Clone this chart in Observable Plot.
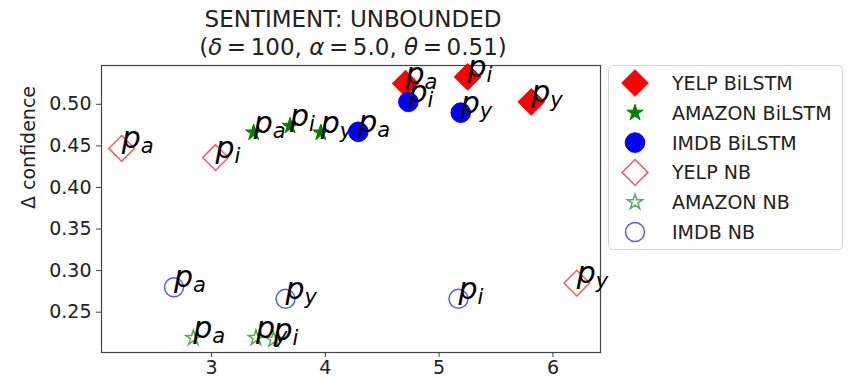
<!DOCTYPE html>
<html><head><meta charset="utf-8">
<script src="https://cdn.jsdelivr.net/npm/d3@7"></script>
<script src="https://cdn.jsdelivr.net/npm/@observablehq/plot@0.6"></script>
<style>
body{margin:0;background:#fff;}
#wrap{position:relative;width:849px;height:378px;font-family:"DejaVu Sans";}
#wrap svg{position:absolute;left:0;top:0;}
</style></head><body><div id="wrap"></div>
<script>
// ---- data ----
const subLabels = ["a", "i", "y"];
const yelpLstmX = [4.705, 5.25, 5.81];
const yelpLstmY = [0.525, 0.533, 0.503];
const amazonLstmX = [3.37, 3.69, 3.96];
const amazonLstmY = [0.466, 0.474, 0.466];
const imdbLstmX = [4.29, 4.73, 5.19];
const imdbLstmY = [0.467, 0.503, 0.490];
const yelpNbX = [2.21, 3.035, 6.21];
const yelpNbY = [0.447, 0.436, 0.285];
const amazonNbX = [2.84, 3.545, 3.39];
const amazonNbY = [0.219, 0.217, 0.219];
const imdbNbX = [2.67, 5.17, 3.65];
const imdbNbY = [0.280, 0.266, 0.266];
const seriesNames = ["YELP BiLSTM", "AMAZON BiLSTM", "IMDB BiLSTM", "YELP NB", "AMAZON NB", "IMDB NB"];
const xTicks = [3, 4, 5, 6];
const yTicks = [0.25, 0.30, 0.35, 0.40, 0.45, 0.50];
const titleLine1 = "SENTIMENT: UNBOUNDED";
const yLabel = "Δ confidence";

// ---- styles ----
const seriesData = [
  [yelpLstmX, yelpLstmY], [amazonLstmX, amazonLstmY], [imdbLstmX, imdbLstmY],
  [yelpNbX, yelpNbY], [amazonNbX, amazonNbY], [imdbNbX, imdbNbY]
];
const styles = [
  {symbol: "diamond2", r: 12, color: "#ff0000", filled: true},
  {symbol: "star", r: 5.1, color: "#008000", filled: true},
  {symbol: "circle", r: 9.8, color: "#0000ff", filled: true},
  {symbol: "diamond2", r: 11.6, color: "#ff0000", filled: false},
  {symbol: "star", r: 4.8, color: "#008000", filled: false},
  {symbol: "circle", r: 9.5, color: "#0000ff", filled: false}
];
const symMap = {diamond2: d3.symbolDiamond2, star: d3.symbolStar, circle: d3.symbolCircle};
const FONT = "DejaVu Sans";

const marks = [];
seriesData.forEach(([xs, ys], k) => {
  const s = styles[k];
  const rows = xs.map((x, i) => ({x, y: ys[i], sub: subLabels[i]}));
  marks.push(Plot.dot(rows, {
    x: "x", y: "y", symbol: s.symbol, r: s.r,
    fill: s.filled ? s.color : "none", stroke: s.color,
    strokeOpacity: s.filled ? 1 : 0.65, strokeWidth: s.filled ? 1 : 1.5
  }));
  marks.push(Plot.text(rows, {
    x: "x", y: "y", text: () => "p", textAnchor: "start", lineAnchor: "bottom",
    fontSize: 30, fontStyle: "italic", fontFamily: FONT, fill: "#000", dx: 0
  }));
  marks.push(Plot.text(rows, {
    x: "x", y: "y", text: "sub", textAnchor: "start", lineAnchor: "bottom",
    fontSize: 21, fontStyle: "italic", fontFamily: FONT, fill: "#000", dx: 19, dy: 5
  }));
});

const chart = Plot.plot({
  width: 849, height: 378,
  marginLeft: 101, marginRight: 249, marginTop: 65, marginBottom: 26,
  x: {domain: [2.033, 6.418]},
  y: {domain: [0.2015, 0.5467]},
  style: {fontFamily: FONT, fontSize: "19px", color: "#222", background: "transparent"},
  marks: [
    Plot.frame({stroke: "#444", strokeWidth: 1.2}),
    ...marks,
    Plot.axisX({ticks: xTicks, tickFormat: "d", tickSize: 5, tickPadding: 3, fontSize: 19, label: null, stroke: "#444"}),
    Plot.axisY({ticks: yTicks, tickFormat: ".2f", tickSize: 5, tickPadding: 5, fontSize: 19, label: null, stroke: "#444"}),
    Plot.text([yLabel], {text: d => d, frameAnchor: "left", dx: -73, rotate: -90, fontSize: 19, fill: "#222"})
  ]
});
document.getElementById("wrap").appendChild(chart);

// ---- overlay: title + legend ----
const ov = d3.select("#wrap").append("svg").attr("width", 849).attr("height", 378)
  .style("font-family", FONT);
ov.append("text").attr("x", 353).attr("y", 27).attr("text-anchor", "middle")
  .attr("font-size", 23).attr("fill", "#222").text(titleLine1);
const t2 = ov.append("text").attr("x", 353).attr("y", 55).attr("text-anchor", "middle")
  .attr("font-size", 23).attr("fill", "#222");
const parts = [["(", 0], ["δ", 1], ["\u2009=\u2009100, ", 0], ["α", 1], ["\u2009=\u20095.0, ", 0], ["θ", 1], ["\u2009=\u20090.51)", 0]];
parts.forEach(([s, it]) => t2.append("tspan").attr("font-style", it ? "italic" : "normal").text(s));

const lg = ov.append("g");
lg.append("rect").attr("x", 608.5).attr("y", 65.5).attr("width", 234).attr("height", 184)
  .attr("rx", 4).attr("fill", "#fff").attr("stroke", "#d6d6d6");
seriesNames.forEach((name, k) => {
  const s = styles[k];
  const cy = 83 + k * 29.8;
  lg.append("path").attr("transform", `translate(635,${cy})`)
    .attr("d", d3.symbol(symMap[s.symbol], Math.PI * s.r * s.r)())
    .attr("fill", s.filled ? s.color : "none").attr("stroke", s.color)
    .attr("stroke-opacity", s.filled ? 1 : 0.65).attr("stroke-width", s.filled ? 1 : 1.5);
  lg.append("text").attr("x", 672).attr("y", cy + 7).attr("font-size", 19).attr("fill", "#222").text(name);
});
</script></body></html>
